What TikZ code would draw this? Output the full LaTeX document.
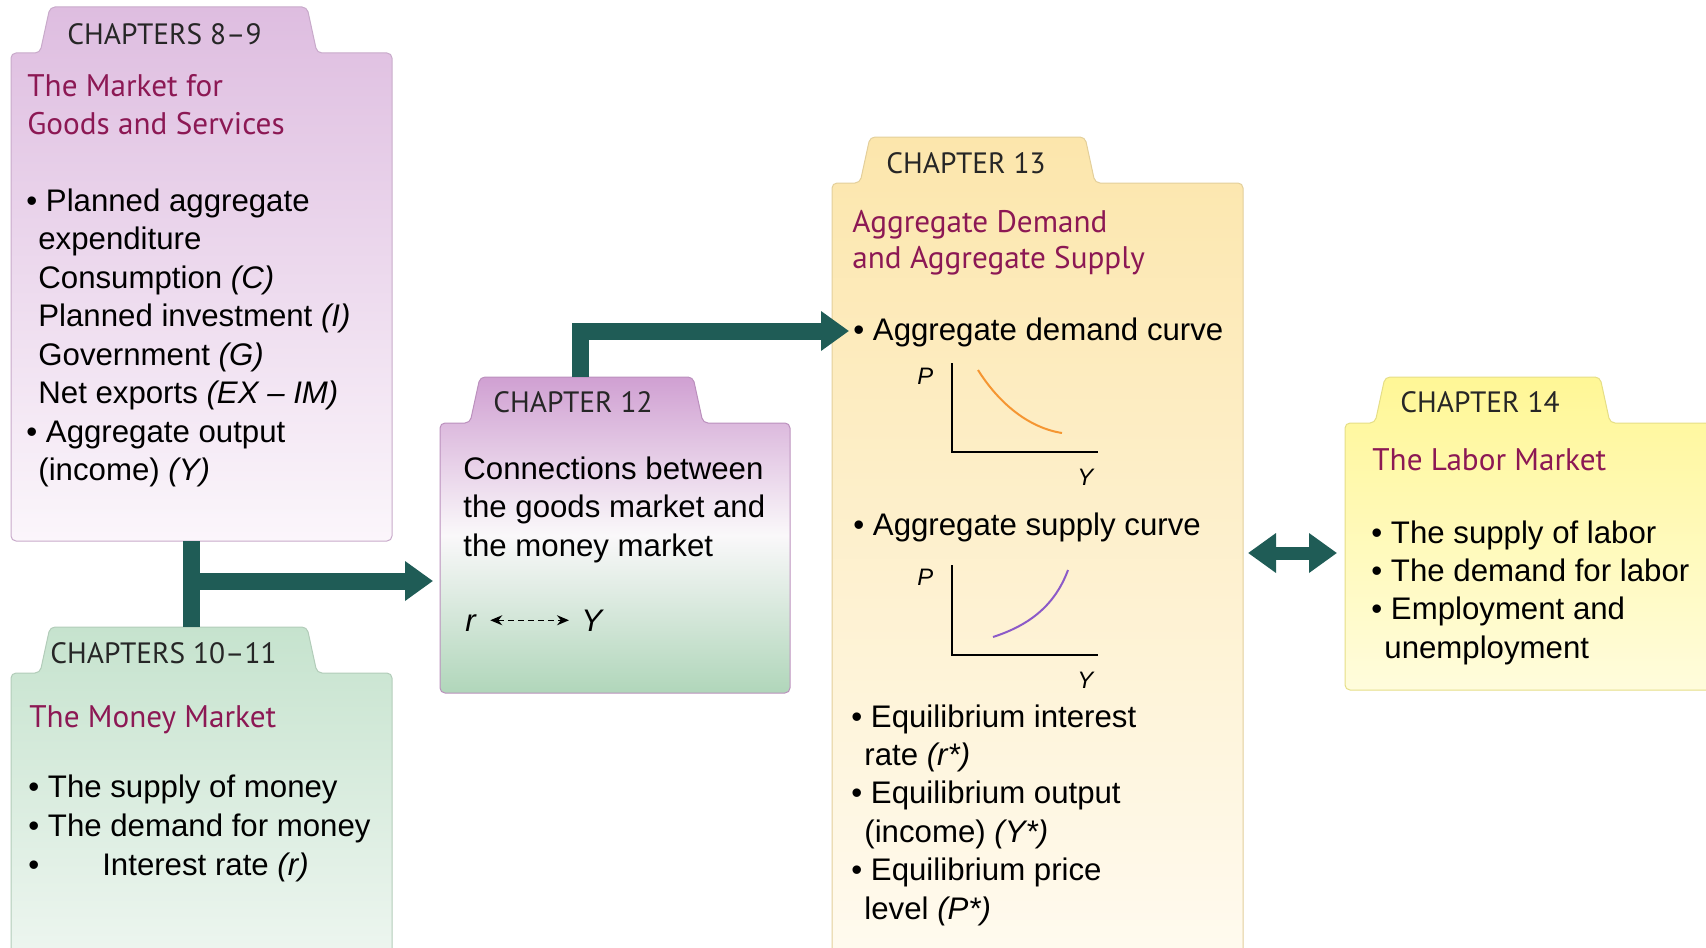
\documentclass[tikz,border=0pt]{standalone}
\usepackage{fontspec}
\setmainfont{Liberation Sans}
\newfontfamily\tabfont{PT Sans}
\usetikzlibrary{arrows.meta}

\definecolor{linkteal}{RGB}{31,92,86}
\definecolor{ttlred}{RGB}{140,24,84}
\definecolor{gmtop}{RGB}{222,189,224}
\definecolor{gmbot}{RGB}{251,246,251}
\definecolor{mmtop}{RGB}{198,227,206}
\definecolor{mmbot}{RGB}{240,247,242}
\definecolor{cxtop}{RGB}{208,160,210}
\definecolor{cxmid}{RGB}{250,248,250}
\definecolor{cxbot}{RGB}{176,214,186}
\definecolor{adtop}{RGB}{252,230,172}
\definecolor{adbot}{RGB}{255,251,241}
\definecolor{lmtop}{RGB}{255,247,150}
\definecolor{lmbot}{RGB}{255,252,220}
\definecolor{adline}{RGB}{245,150,50}
\definecolor{asline}{RGB}{140,90,200}

\tikzset{
  folderbox/.style={rounded corners=2.5pt, line width=0.5pt},
  txt/.style={anchor=base west, inner sep=0pt, font=\fontsize{15.6}{18}\selectfont},
  chap/.style={txt, font=\tabfont\fontsize{14.7}{18}\selectfont, text=black!85},
  ttl/.style={txt, font=\tabfont\fontsize{15.6}{18}\selectfont, text=ttlred},
  axlbl/.style={txt, font=\fontsize{11.9}{14}\selectfont\itshape},
  axisline/.style={line width=0.9pt},
  link/.style={draw=linkteal, line width=8.5pt, line join=miter},
  bigtip/.style={-{Triangle[length=14pt,width=19pt]}},
}

% folder: style, left, top, right, bottom, tab left, tab right
\newcommand{\folder}[7]{
  \path[folderbox,#1] (#2,#5) -- (#2,#3) -- (#6,#3) -- ({#6+10},{#3-46})
    -- ({#7-10},{#3-46}) -- (#7,#3) -- (#4,#3) -- (#4,#5) -- cycle;
}

\begin{document}
\begin{tikzpicture}[x=0.5pt, y=-0.5pt]
	\useasboundingbox (0,0) rectangle (1706,947);
	\clip (0,0) rectangle (1706,947);
	% folders
	\folder{top color=gmtop, bottom color=gmbot, draw=gmtop!90!black}{11}{53}{392}{541}{40}{317}
	\folder{top color=mmtop, bottom color=mmbot, draw=mmtop!90!black}{11}{673}{392}{980}{40}{317}
	\folder{top color=cxtop, bottom color=cxbot, middle color=cxmid, draw=cxtop!90!black}{440}{423}{790}{693}{470}{703}
	\folder{top color=adtop, bottom color=adbot, draw=adtop!90!black}{832}{183}{1243}{980}{860}{1095}
	\folder{top color=lmtop, bottom color=lmbot, draw=lmtop!90!black}{1345}{423}{1740}{690}{1375}{1610}
	% connector ends
	\coordinate (gm-out) at (191,541);
	\coordinate (mm-in) at (191,627);
	\coordinate (fork) at (191,581);
	\coordinate (cx-in) at (433,581);
	\coordinate (cx-out) at (580,377);
	\coordinate (ad-in) at (849,331);
	\coordinate (ad-east) at (1248,553);
	\coordinate (lm-west) at (1337,553);
	% connectors
	\draw[link] (gm-out) -- (mm-in);
	\draw[link, bigtip] (fork) -- (cx-in);
	\draw[link, bigtip] (cx-out) |- (ad-in);
	\draw[draw=linkteal, line width=6.5pt, {Triangle[length=14pt,width=19pt]}-{Triangle[length=14pt,width=19pt]}] (ad-east) -- (lm-west);

	% chapters 8-9
	\node[chap] (gm-tab) at (67,45) {CHAPTERS 8–9};
	\node[ttl] (gm-t1) at (27,97) {The Market for};
	\node[ttl] (gm-t2) at (27,134) {Goods and Services};
	\foreach \dx/\ln [count=\i from 0] in {26/{• Planned aggregate}, 38/{expenditure},
		38/{Consumption \textit{(C)}}, 38/{Planned investment \textit{(I)}},
		38/{Government \textit{(G)}}, 38/{Net exports \textit{(EX – IM)}},
		26/{• Aggregate output}, 38/{(income) \textit{(Y)}}}
		\node[txt] (gm\i) at (\dx,{211+38.5*\i}) {\ln};

	% chapters 10-11
	\node[chap] (mm-tab) at (50,663) {CHAPTERS 10–11};
	\node[ttl] (mm-t1) at (29,727) {The Money Market};
	\foreach \ln [count=\i from 0] in {{• The supply of money}, {• The demand for money},
		{•\hspace{31.5pt}Interest rate \textit{(r)}}}
		\node[txt] (mm\i) at (28,{797+39*\i}) {\ln};

	% chapter 12
	\node[chap] (cx-tab) at (493,412) {CHAPTER 12};
	\foreach \ln [count=\i from 0] in {{Connections between}, {the goods market and}, {the money market}}
		\node[txt] (cx\i) at (463,{479+38.5*\i}) {\ln};
	\node[txt] (cx-r) at (465,631) {\textit{r}};
	\node[txt] (cx-y) at (581,631) {\textit{Y}};
	\draw[line width=0.7pt, dash pattern=on 3pt off 2pt, {Stealth[length=6pt,width=5pt]}-{Stealth[length=6pt,width=5pt]},
		shorten <=6.5pt, shorten >=6pt] (cx-r.east |- cx-y.center) -- (cx-y.west |- cx-y.center);

	% chapter 13
	\node[chap] (ad-tab) at (886,173) {CHAPTER 13};
	\node[ttl] (ad-t1) at (852,232) {Aggregate Demand};
	\node[ttl] (ad-t2) at (852,268) {and Aggregate Supply};
	\node[txt] (ad-b1) at (853,340) {• Aggregate demand curve};
	\node[axlbl] (ad-p1) at (917,384) {P};
	\node[axlbl] (ad-y1) at (1077,485) {Y};
	\draw[axisline] (952,363) |- (1098,452);
	\draw[adline, line width=1pt] (978,370) .. controls (1000,405) and (1030,428) .. (1062,433);
	\node[txt] (ad-b2) at (853,535) {• Aggregate supply curve};
	\node[axlbl] (ad-p2) at (917,585) {P};
	\node[axlbl] (ad-y2) at (1077,688) {Y};
	\draw[axisline] (952,565) |- (1098,655);
	\draw[asline, line width=1pt] (993,637) .. controls (1030,625) and (1055,605) .. (1068,570);
	\foreach \dx/\ln [count=\i from 0] in {851/{• Equilibrium interest}, 864/{rate \textit{(r*)}},
		851/{• Equilibrium output}, 864/{(income) \textit{(Y*)}},
		851/{• Equilibrium price}, 864/{level \textit{(P*)}}}
		\node[txt] (ad\i) at (\dx,{727+38.4*\i}) {\ln};

	% chapter 14
	\node[chap] (lm-tab) at (1400,412) {CHAPTER 14};
	\node[ttl] (lm-t1) at (1372,470) {The Labor Market};
	\foreach \dx/\ln [count=\i from 0] in {1371/{• The supply of labor}, 1371/{• The demand for labor},
		1371/{• Employment and}, 1384/{unemployment}}
		\node[txt] (lm\i) at (\dx,{543+38.4*\i}) {\ln};
\end{tikzpicture}
\end{document}
